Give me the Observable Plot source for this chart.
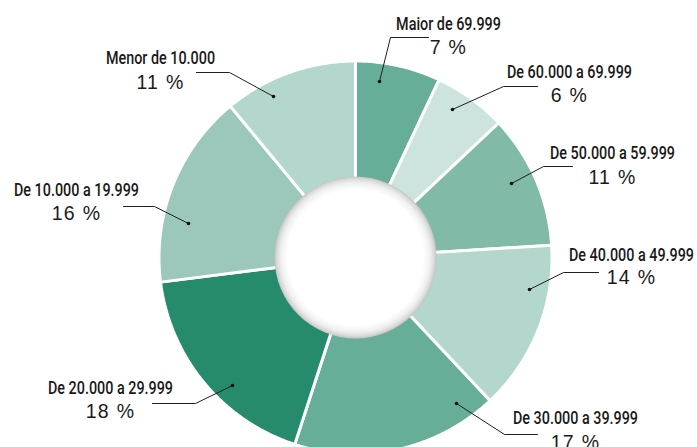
<!DOCTYPE html>
<html><head><meta charset="utf-8">
<script src="https://cdn.jsdelivr.net/npm/d3@7"></script>
<script src="https://cdn.jsdelivr.net/npm/@observablehq/plot@0.6"></script>
<style>
body{margin:0;background:#fff}
#chart svg{display:block}
</style>
</head><body><div id="chart"></div>
<script>
// ---- data ----
const categories = ["Maior de 69.999","De 60.000 a 69.999","De 50.000 a 59.999","De 40.000 a 49.999","De 30.000 a 39.999","De 20.000 a 29.999","De 10.000 a 19.999","Menor de 10.000"];
const shares = [7, 6, 11, 14, 17, 18, 16, 11];
const valueLabels = ["7 %","6 %","11 %","14 %","17 %","18 %","16 %","11 %"];

// ---- styles ----
const palette = ["#66ae98","#cce4dd","#81bba8","#b3d7cc","#66ae98","#268a6c","#9bc8ba","#b3d7cc"];

// ---- layout (pixels) ----
const W = 697, H = 447, CX = 355, CY = 257;
const R_OUT = 196.5, R_IN = 55, R_HOLE = 81;
const NAME_REF_WIDTH = 125; // rendered width of the "De 10.000 a 19.999" label
const labelLayout = [
  {dot:[379, 81],  elbow:[390, 37],  end:[428, 37],  tx:448, nameY:29,  valueY:53},
  {dot:[452,109],  elbow:[503, 86],  end:[537, 86],  tx:569, nameY:77,  valueY:101},
  {dot:[511,183],  elbow:[543,166],  end:[572,166],  tx:612, nameY:158, valueY:183},
  {dot:[529,289],  elbow:[563,272],  end:[598,272],  tx:631, nameY:260, valueY:283},
  {dot:[456,403],  elbow:[504,434],  end:[537,434],  tx:575, nameY:423, valueY:448},
  {dot:[232,385],  elbow:[195,403],  end:[152,403],  tx:110, nameY:393, valueY:417},
  {dot:[188,223],  elbow:[154,206],  end:[123,206],  tx:76,  nameY:195, valueY:219},
  {dot:[273, 96],  elbow:[229, 72],  end:[196, 72],  tx:160, nameY:63,  valueY:88}
];

// ---- build slice polygons from shares ----
const total = d3.sum(shares);
let acc = 0;
const slicePts = [];
categories.forEach((cat, i) => {
  const a0 = acc / total * 2 * Math.PI;
  acc += shares[i];
  const a1 = acc / total * 2 * Math.PI;
  const n = Math.max(8, Math.ceil((a1 - a0) / 0.01));
  const pts = [];
  for (let k = 0; k <= n; k++) { const a = a0 + (a1 - a0) * k / n; pts.push([R_OUT * Math.sin(a), -R_OUT * Math.cos(a)]); }
  for (let k = n; k >= 0; k--) { const a = a0 + (a1 - a0) * k / n; pts.push([R_IN * Math.sin(a), -R_IN * Math.cos(a)]); }
  pts.push(pts[0]);
  pts.forEach(([x, y]) => slicePts.push({cat, x, y}));
});

const px = ([x, y]) => ({x: x - CX, y: y - CY});
const leaderPts = [];
labelLayout.forEach((L, i) => [L.dot, L.elbow, L.end].forEach(p => leaderPts.push({cat: categories[i], ...px(p)})));
const dots = labelLayout.map((L, i) => ({cat: categories[i], ...px(L.dot)}));
const names = labelLayout.map((L, i) => ({text: categories[i], x: L.tx - CX, y: L.nameY - CY}));
const values = labelLayout.map((L, i) => ({text: valueLabels[i], x: L.tx - CX, y: L.valueY - CY}));

const chart = Plot.plot({
  width: W, height: H, margin: 0,
  x: {domain: [-CX, W - CX], range: [0, W], axis: null},
  y: {domain: [-CY, H - CY], range: [0, H], axis: null},
  color: {domain: categories, range: palette},
  style: {background: "#fff", overflow: "hidden"},
  marks: [
    Plot.line(slicePts, {x: "x", y: "y", z: "cat", fill: "cat", stroke: "#fff", strokeWidth: 3, strokeLinejoin: "miter", curve: "linear"}),
    Plot.dot([{x: 0, y: 0}], {x: "x", y: "y", r: R_HOLE, fill: "url(#holeGrad)", stroke: "none"}),
    Plot.line(leaderPts, {x: "x", y: "y", z: "cat", stroke: "#1f1f1f", strokeWidth: 1, strokeLinejoin: "miter"}),
    Plot.dot(dots, {x: "x", y: "y", r: 1.8, fill: "#111", stroke: "none"}),
    Plot.text(names, {x: "x", y: "y", text: "text", textAnchor: "middle", lineAnchor: "bottom", fontFamily: "Roboto,'DejaVu Sans',sans-serif", fontWeight: 500, fontSize: 19, fill: "#1a1a1a"}),
    Plot.text(values, {x: "x", y: "y", text: "text", textAnchor: "middle", lineAnchor: "bottom", fontFamily: "'Liberation Sans',Arial,sans-serif", fontSize: 19.5, fill: "#1a1a1a"})
  ]
});

// radial gradient for the hole's inset shadow
const svg = d3.select(chart);
const defs = svg.insert("defs", ":first-child");
const g = defs.append("radialGradient").attr("id", "holeGrad");
[[0, "#ffffff"], [0.84, "#ffffff"], [0.92, "#f0f0f0"], [0.97, "#dadada"], [1, "#c2c2c2"]]
  .forEach(([o, c]) => g.append("stop").attr("offset", o).attr("stop-color", c));

document.getElementById("chart").appendChild(chart);

// condense the range labels to the reference's narrow face width; space out the percentages
const textNodes = svg.selectAll("text").nodes();
const nameSet = new Set(categories), valueSet = new Set(valueLabels);
const nameNodes = textNodes.filter(n => nameSet.has(n.textContent));
const valueNodes = textNodes.filter(n => valueSet.has(n.textContent));
valueNodes.forEach(n => n.style.letterSpacing = "1.3px");
const refNode = nameNodes.find(n => n.textContent === "De 10.000 a 19.999");
const factor = refNode ? NAME_REF_WIDTH / refNode.getComputedTextLength() : 1;
if (factor < 1) nameNodes.forEach(n => {
  n.setAttribute("textLength", (n.getComputedTextLength() * factor).toFixed(1));
  n.setAttribute("lengthAdjust", "spacingAndGlyphs");
});
</script>
</body></html>
